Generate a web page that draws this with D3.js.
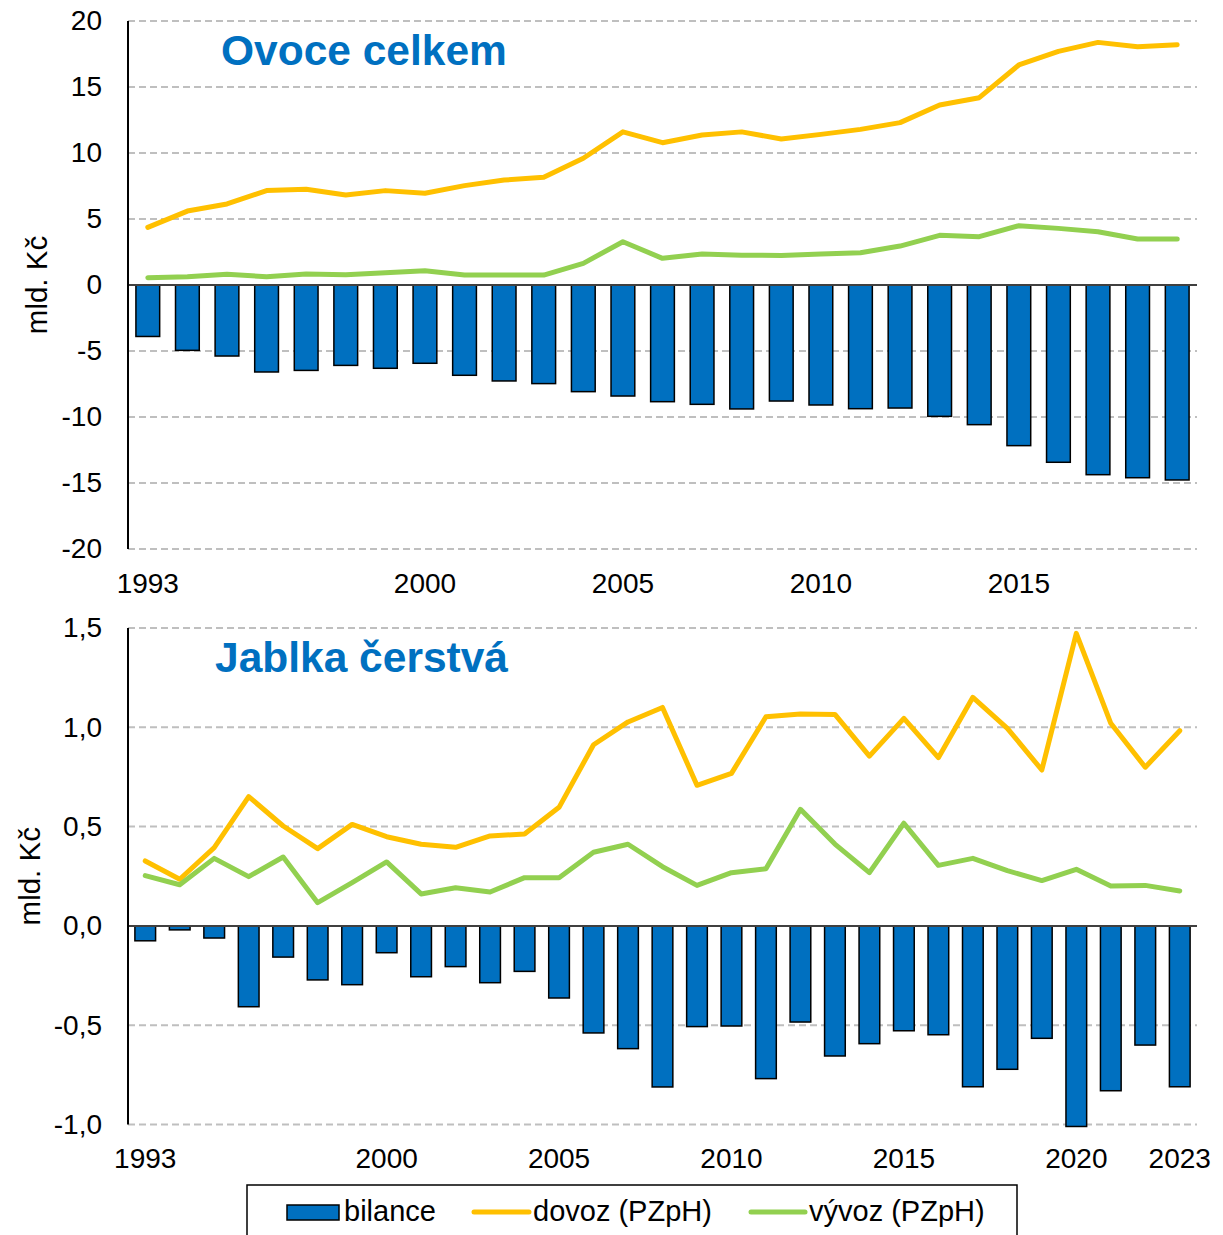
<!DOCTYPE html>
<html>
<head>
<meta charset="utf-8">
<script src="https://cdn.jsdelivr.net/npm/d3@7"></script>
<style>
body { margin: 0; background: #fff; }
text { font-family: "Liberation Sans", Arial, sans-serif; }
</style>
</head>
<body>
<svg id="chart" width="1223" height="1235"></svg>
<script>
// Ovoce celkem (mld. Kc)
var years1 = [1993, 1994, 1995, 1996, 1997, 1998, 1999, 2000, 2001, 2002, 2003, 2004, 2005, 2006,
  2007, 2008, 2009, 2010, 2011, 2012, 2013, 2014, 2015, 2016, 2017, 2018, 2019];
var bilance1 = [-3.9, -4.95, -5.38, -6.59, -6.47, -6.09, -6.31, -5.93, -6.84, -7.27, -7.47, -8.08, -8.41, -8.84,
  -9.04, -9.39, -8.79, -9.09, -9.37, -9.32, -9.95, -10.58, -12.17, -13.43, -14.37, -14.6, -14.77];
var dovoz1 = [4.37, 5.6, 6.14, 7.15, 7.25, 6.82, 7.15, 6.95, 7.53, 7.95, 8.16, 9.6, 11.6, 10.78,
  11.36, 11.6, 11.06, 11.41, 11.79, 12.3, 13.64, 14.19, 16.67, 17.7, 18.38, 18.05, 18.2];
var vyvoz1 = [0.55, 0.63, 0.81, 0.63, 0.83, 0.78, 0.93, 1.08, 0.76, 0.76, 0.75, 1.64, 3.28, 2.02,
  2.35, 2.25, 2.24, 2.35, 2.45, 2.95, 3.76, 3.66, 4.49, 4.29, 4.04, 3.48, 3.48];
var xTicks1 = [1993, 2000, 2005, 2010, 2015];
var yTicks1 = [-20, -15, -10, -5, 0, 5, 10, 15, 20];

// Jablka cerstva (mld. Kc)
var years2 = [1993, 1994, 1995, 1996, 1997, 1998, 1999, 2000, 2001, 2002, 2003, 2004, 2005, 2006, 2007, 2008,
  2009, 2010, 2011, 2012, 2013, 2014, 2015, 2016, 2017, 2018, 2019, 2020, 2021, 2022, 2023];
var bilance2 = [-0.075, -0.02, -0.061, -0.407, -0.157, -0.272, -0.296, -0.135, -0.256, -0.205, -0.286, -0.229,
  -0.363, -0.539, -0.618, -0.811, -0.507, -0.504, -0.769, -0.484, -0.655, -0.593, -0.528, -0.548, -0.81,
  -0.722, -0.566, -1.01, -0.83, -0.6, -0.81];
var dovoz2 = [0.327, 0.235, 0.394, 0.651, 0.503, 0.389, 0.511, 0.449, 0.411, 0.396, 0.453, 0.463, 0.597, 0.912,
  1.027, 1.10, 0.708, 0.768, 1.053, 1.067, 1.065, 0.855, 1.045, 0.847, 1.151, 0.995, 0.785, 1.473, 1.02, 0.799, 0.983];
var vyvoz2 = [0.253, 0.207, 0.34, 0.248, 0.347, 0.117, 0.218, 0.322, 0.161, 0.192, 0.171, 0.243, 0.243, 0.371,
  0.411, 0.298, 0.204, 0.268, 0.288, 0.587, 0.412, 0.268, 0.517, 0.305, 0.34, 0.278, 0.228, 0.285, 0.201, 0.204, 0.176];
var xTicks2 = [1993, 2000, 2005, 2010, 2015, 2020, 2023];
var yTicks2 = [-1, -0.5, 0, 0.5, 1, 1.5];

var legendNames = ["bilance", "dovoz (PZpH)", "vývoz (PZpH)"];

var blue = "#0070C0", yellow = "#FFC000", green = "#92D050";
var left = 128, right = 1197;

var cz = d3.formatLocale({decimal: ",", thousands: " ", grouping: [3], currency: ["", " Kč"], minus: "-"});

var svg = d3.select("#chart");

function panel(o) {
  var x = d3.scaleBand().domain(o.years).range([left, right]).paddingInner(0.4).paddingOuter(0.2);
  var y = d3.scaleLinear().domain(o.domain).range([o.bottom, o.top]);
  var g = svg.append("g");

  // grid
  g.selectAll(".grid").data(o.yTicks.filter(function (d) { return d != 0; }))
    .enter().append("line")
    .attr("x1", left).attr("x2", right)
    .attr("y1", function (d) { return y(d); }).attr("y2", function (d) { return y(d); })
    .attr("stroke", "#BFBFBF").attr("stroke-width", 2).attr("stroke-dasharray", "7,4");

  // bars
  g.selectAll(".bar").data(o.bilance).enter().append("rect")
    .attr("x", function (d, i) { return x(o.years[i]); })
    .attr("width", x.bandwidth())
    .attr("y", function (d) { return y(Math.max(0, d)); })
    .attr("height", function (d) { return Math.abs(y(d) - y(0)); })
    .attr("fill", blue).attr("stroke", "#000").attr("stroke-width", 1.5);

  // zero line
  g.append("line").attr("x1", left).attr("x2", right).attr("y1", y(0)).attr("y2", y(0))
    .attr("stroke", "#404040").attr("stroke-width", 2);

  var line = d3.line()
    .x(function (d, i) { return x(o.years[i]) + x.bandwidth() / 2; })
    .y(function (d) { return y(d); });

  g.append("path").datum(o.dovoz).attr("d", line).attr("fill", "none")
    .attr("stroke", yellow).attr("stroke-width", 5).attr("stroke-linejoin", "round").attr("stroke-linecap", "round");
  g.append("path").datum(o.vyvoz).attr("d", line).attr("fill", "none")
    .attr("stroke", green).attr("stroke-width", 5).attr("stroke-linejoin", "round").attr("stroke-linecap", "round");

  // y axis
  var ya = g.append("g").attr("transform", "translate(" + left + ",0)")
    .call(d3.axisLeft(y).tickValues(o.yTicks).tickSize(0).tickPadding(26).tickFormat(o.fmt));
  ya.select(".domain").remove();
  ya.selectAll("text").attr("font-size", 28).attr("fill", "#000")
    .style("font-family", "'Liberation Sans', Arial, sans-serif");
  g.append("line").attr("x1", left).attr("x2", left).attr("y1", o.top).attr("y2", o.bottom)
    .attr("stroke", "#000").attr("stroke-width", 2);

  // x axis
  var xa = g.append("g").attr("transform", "translate(0," + o.bottom + ")")
    .call(d3.axisBottom(x).tickValues(o.xTicks).tickSize(0).tickPadding(24));
  xa.select(".domain").remove();
  xa.selectAll("text").attr("font-size", 28).attr("fill", "#000")
    .style("font-family", "'Liberation Sans', Arial, sans-serif");

  // axis title
  g.append("text")
    .attr("transform", "translate(" + o.yTitleX + "," + ((o.top + o.bottom) / 2) + ") rotate(-90)")
    .attr("text-anchor", "middle").attr("font-size", 29.5).text("mld. Kč");

  // panel title
  g.append("text").attr("x", o.titleX).attr("y", o.titleY)
    .attr("font-size", 42.5).attr("font-weight", "bold").attr("fill", blue).text(o.title);
}

panel({
  years: years1, bilance: bilance1, dovoz: dovoz1, vyvoz: vyvoz1,
  xTicks: xTicks1, yTicks: yTicks1, domain: [-20, 20], top: 21, bottom: 549,
  fmt: cz.format("d"), title: "Ovoce celkem", titleX: 221, titleY: 65, yTitleX: 47
});

panel({
  years: years2, bilance: bilance2, dovoz: dovoz2, vyvoz: vyvoz2,
  xTicks: xTicks2, yTicks: yTicks2, domain: [-1, 1.5], top: 628, bottom: 1124.5,
  fmt: cz.format(".1f"), title: "Jablka čerstvá", titleX: 215, titleY: 672, yTitleX: 40
});

// legend
var lg = svg.append("g");
lg.append("rect").attr("x", 247).attr("y", 1185).attr("width", 770).attr("height", 70)
  .attr("fill", "#fff").attr("stroke", "#000").attr("stroke-width", 1.5);
lg.append("rect").attr("x", 287).attr("y", 1205).attr("width", 52).attr("height", 15)
  .attr("fill", blue).attr("stroke", "#000").attr("stroke-width", 1.5);
lg.append("line").attr("x1", 474).attr("x2", 529).attr("y1", 1212).attr("y2", 1212)
  .attr("stroke", yellow).attr("stroke-width", 5).attr("stroke-linecap", "round");
lg.append("line").attr("x1", 751).attr("x2", 805).attr("y1", 1212).attr("y2", 1212)
  .attr("stroke", green).attr("stroke-width", 5).attr("stroke-linecap", "round");
var lx = [344, 533, 809];
lg.selectAll(".lt").data(legendNames).enter().append("text")
  .attr("x", function (d, i) { return lx[i]; }).attr("y", 1221)
  .attr("font-size", 29).text(function (d) { return d; });
</script>
</body>
</html>
